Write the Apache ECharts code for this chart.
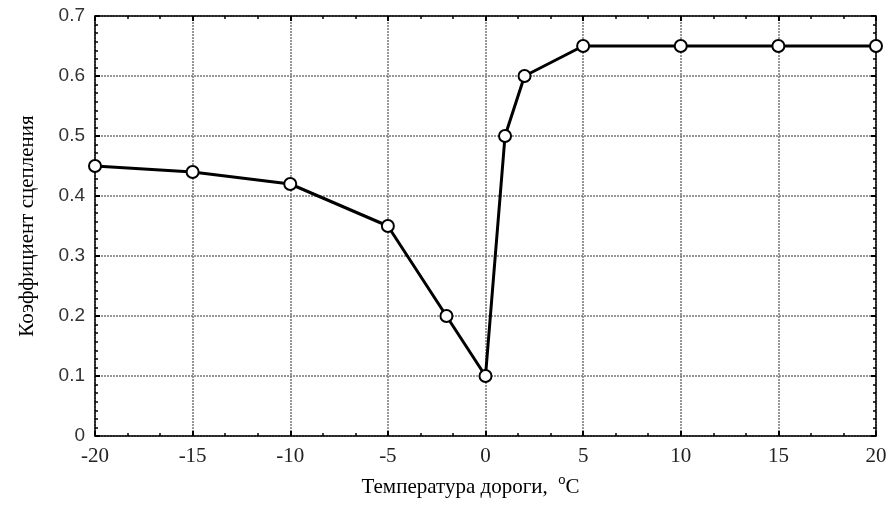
<!DOCTYPE html>
<html><head><meta charset="utf-8">
<script src="https://cdn.jsdelivr.net/npm/echarts@6/dist/echarts.min.js"></script>
<style>html,body{margin:0;padding:0;background:#fff}#c{width:894px;height:510px}</style>
</head><body><div id="c"></div>
<script>
const temps = [-20, -15, -10, -5, -2, 0, 1, 2, 5, 10, 15, 20];
const coeffs = [0.45, 0.44, 0.42, 0.35, 0.2, 0.1, 0.5, 0.6, 0.65, 0.65, 0.65, 0.65];
const xTitle = 'Температура дороги,  ';
const xUnitSup = 'o';
const xUnit = 'C';
const yTitle = 'Коэффициент сцепления';

const serif = 'Liberation Serif';
const sans = 'Liberation Sans';
const chart = echarts.init(document.getElementById('c'));
const gridLine = {show: true, lineStyle: {color: '#777', type: [2, 1], width: 1.5}};
const common = {
  axisLine: {show: true, onZero: false, lineStyle: {color: '#000', width: 1.5}},
  axisTick: {show: true, inside: true, length: 5, lineStyle: {color: '#000', width: 2}},
  minorTick: {show: true, length: 3, lineStyle: {color: '#000', width: 1.5}}
};
chart.setOption({
  animation: false,
  grid: {left: 95, right: 18, top: 16, bottom: 74, containLabel: false},
  xAxis: [
    Object.assign({
      type: 'value', min: -20, max: 20, interval: 5, position: 'bottom',
      splitLine: gridLine,
      axisLabel: {color: '#222', fontFamily: serif, fontSize: 21, margin: 10},
      name: '{t|' + xTitle + '}{s|' + xUnitSup + '}{t|' + xUnit + '}{p|}', nameLocation: 'middle', nameGap: 38,
      nameTextStyle: {rich: {t: {fontFamily: serif, fontSize: 21, color: '#000'},
                              s: {fontFamily: sans, fontSize: 13, color: '#000', verticalAlign: 'top', padding: [0, 0, 14, 0]},
                              p: {width: 30}}}
    }, common, {minorTick: Object.assign({splitNumber: 3}, common.minorTick)}),
    Object.assign({
      type: 'value', min: -20, max: 20, interval: 5, position: 'top',
      splitLine: {show: false}, axisLabel: {show: false}
    }, common, {minorTick: Object.assign({splitNumber: 3}, common.minorTick)})
  ],
  yAxis: [
    Object.assign({
      type: 'value', min: 0, max: 0.7, interval: 0.1, position: 'left',
      splitLine: gridLine,
      axisLabel: {color: '#333', fontFamily: sans, fontSize: 19, margin: 10},
      name: yTitle, nameLocation: 'middle', nameGap: 57,
      nameTextStyle: {fontFamily: serif, fontSize: 21, color: '#000'}
    }, common, {minorTick: Object.assign({splitNumber: 7}, common.minorTick)}),
    Object.assign({
      type: 'value', min: 0, max: 0.7, interval: 0.1, position: 'right',
      splitLine: {show: false}, axisLabel: {show: false}
    }, common, {minorTick: Object.assign({splitNumber: 7}, common.minorTick)})
  ],
  series: [{
    type: 'line',
    data: temps.map((t, i) => [t, coeffs[i]]),
    lineStyle: {color: '#000', width: 3},
    symbol: 'circle', symbolSize: 12,
    itemStyle: {color: '#fff', borderColor: '#000', borderWidth: 2},
    clip: false
  }]
});
</script></body></html>
